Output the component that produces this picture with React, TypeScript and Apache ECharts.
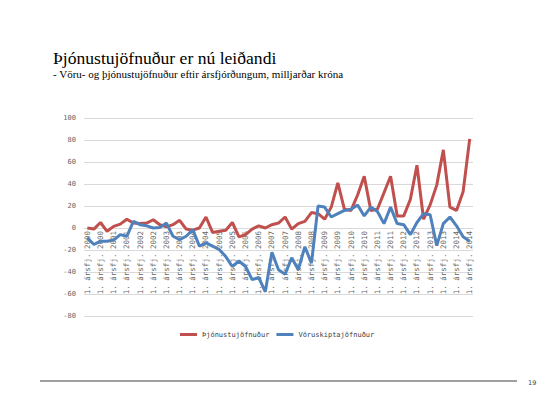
import React, { useEffect, useRef } from "react";
import * as echarts from "echarts";

// Years shown on the axis (the source uses a fixed "1. ársfj." prefix on every label)
const years = [2000, 2001, 2002, 2003, 2004, 2005, 2006, 2007, 2008, 2009, 2010, 2011, 2012, 2013, 2014];
const quartersPerYear = [4, 4, 4, 4, 4, 4, 4, 4, 4, 4, 4, 4, 4, 4, 3];

// Þjónustujöfnuður (services balance), ma.kr.
const thjonusta = [
  0, -1, 5, -3, 1.5, 3.5, 8, 4.5, 4, 4.5, 7.5, 3, 1, 3, 7, -1, -2, 0, 10, -4,
  -3, -2, 5, -8, -6, -1, 2, 0, 3, 4.5, 10, -1, 4, 6, 14, 13, 8, 19, 41, 17,
  16, 30, 47, 16, 17, 32, 47, 11, 11, 26, 57, 8, 21, 39, 71, 19, 16, 33, 81,
];

// Vöruskiptajöfnuður (goods balance), ma.kr.
const voruskipti = [
  -9, -15, -12, -12, -11, -6, -7.5, 6, 3, 2, 0, 0.5, 4.5, -7.5, -10.5, -7.5, -1.5, -16.5, -13.5, -16.5,
  -19.5, -26, -35, -30, -35, -47, -45, -58, -22, -38, -42, -27, -38, -17, -32, 20, 19, 10, 13, 16,
  17, 21, 11, 19, 15, 4, 19, 4, 3, -6, 5, 13, 12, -16, 4, 10, 2, -8, -12,
];

const yTicks = { min: -80, max: 100, interval: 20 };

const seriesNames = ["Þjónustujöfnuður", "Vöruskiptajöfnuður"];
const titleText = "Þjónustujöfnuður er nú leiðandi";
const subtitleText = "- Vöru- og þjónustujöfnuður eftir ársfjórðungum, milljarðar króna";
const pageNumber = "19";

const categories: string[] = [];
years.forEach((y, i) => {
  for (let q = 0; q < quartersPerYear[i]; q++) categories.push(`1. ársfj. ${y}`);
});

const GRID_TOP = 118;
const GRID_H = 198;

export default function App() {
  const ref = useRef<HTMLDivElement>(null);
  useEffect(() => {
    if (!ref.current) return;
    const chart = echarts.init(ref.current, undefined, { renderer: "svg" });
    const axisFont = "DejaVu Sans Mono";
    // place the category axis where the value axis crosses zero
    const zeroOffset = -(GRID_H * (0 - yTicks.min)) / (yTicks.max - yTicks.min);
    chart.setOption({
      animation: false,
      backgroundColor: "#ffffff",
      color: ["#C0504D", "#4F81BD"],
      grid: { left: 84, right: 86, top: GRID_TOP, height: GRID_H, containLabel: false },
      legend: {
        data: seriesNames,
        left: 180,
        top: 331,
        padding: 0,
        icon: "rect",
        itemWidth: 17,
        itemHeight: 3,
        itemGap: 7,
        textStyle: { fontFamily: axisFont, fontSize: 7, color: "#404040" },
      },
      xAxis: {
        type: "category",
        data: categories,
        boundaryGap: true,
        position: "bottom",
        offset: zeroOffset,
        axisLine: { onZero: false, lineStyle: { color: "#d9d9d9", width: 1 } },
        axisTick: { show: false },
        axisLabel: {
          interval: 1,
          rotate: 90,
          margin: 3,
          fontFamily: axisFont,
          fontSize: 7.5,
          color: "#666666",
        },
        splitLine: { show: false },
      },
      yAxis: {
        type: "value",
        min: yTicks.min,
        max: yTicks.max,
        interval: yTicks.interval,
        axisLine: { show: false },
        axisTick: { show: false },
        axisLabel: { margin: 8, fontFamily: axisFont, fontSize: 7, color: "#666666" },
        splitLine: { lineStyle: { color: "#d9d9d9", width: 1 } },
      },
      series: [
        {
          name: seriesNames[0],
          type: "line",
          data: thjonusta,
          symbol: "none",
          lineStyle: { width: 3, color: "#C0504D" },
        },
        {
          name: seriesNames[1],
          type: "line",
          data: voruskipti,
          symbol: "none",
          lineStyle: { width: 3, color: "#4F81BD" },
        },
      ],
      graphic: [
        {
          type: "text",
          x: 53,
          y: 58.3,
          style: {
            text: titleText,
            font: "17.6px 'Liberation Serif'",
            fill: "#000000",
            verticalAlign: "middle",
            align: "left",
          },
        },
        {
          type: "text",
          x: 53,
          y: 74,
          style: {
            text: subtitleText,
            font: "11px 'Liberation Serif'",
            fill: "#000000",
            verticalAlign: "middle",
            align: "left",
          },
        },
        {
          type: "line",
          shape: { x1: 40, y1: 381, x2: 517, y2: 381 },
          style: { stroke: "#404040", lineWidth: 1 },
        },
        {
          type: "text",
          x: 528,
          y: 383,
          style: {
            text: pageNumber,
            font: "6.5px 'DejaVu Sans'",
            fill: "#404040",
            verticalAlign: "middle",
            align: "left",
          },
        },
      ],
    });
    return () => chart.dispose();
  }, []);
  return (
    <div
      ref={ref}
      style={{ position: "fixed", left: 0, top: 0, width: 559, height: 394, background: "#fff" }}
    />
  );
}
